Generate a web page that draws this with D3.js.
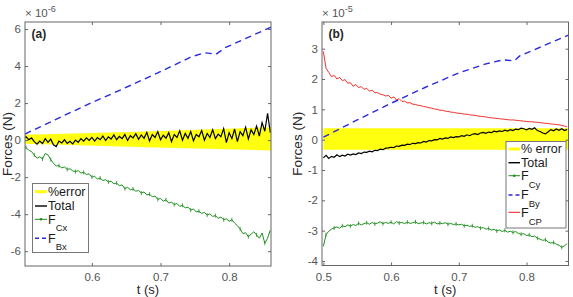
<!DOCTYPE html>
<html>
<head>
<meta charset="utf-8">
<script src="https://cdn.jsdelivr.net/npm/d3@7"></script>
<style>
  body { margin: 0; background: #fff; }
  svg { display: block; font-family: "Liberation Sans", Arial, sans-serif; }
</style>
</head>
<body>
<svg id="chart" width="573" height="297"></svg>
<script>
// --------------------------
// DATA (forces in units of the axis multiplier)
// --------------------------
// sampled series: t = 0.500, 0.504, ... 0.860 s
const tStart = 0.5;
const tStep = 0.004;

// panel (a), x 1e-6 N
const totalA = [
  0.10, 0.18, 0.02, 0.12, -0.08, -0.22, -0.05, -0.18, 0.08, -0.12,
  0.05, -0.25, -0.35, -0.05, -0.15, 0.02, -0.18, -0.06, -0.20, 0.00,
  -0.12, 0.08, -0.06, 0.12, -0.02, 0.15, -0.05, 0.14, 0.02, 0.22,
  -0.02, 0.18, 0.06, 0.28, 0.02, 0.20, 0.08, 0.30, -0.02, 0.24,
  0.12, 0.35, 0.04, 0.28, 0.10, 0.42, -0.05, 0.30, 0.14, 0.46,
  0.02, 0.26, 0.10, 0.40, -0.08, 0.30, 0.14, 0.50, 0.00, 0.36,
  0.10, 0.46, -0.04, 0.30, 0.18, 0.52, 0.00, 0.36, 0.14, 0.56,
  0.08, 0.32, 0.18, 0.62, -0.14, 0.40, 0.08, 0.60, -0.08, 0.46,
  0.24, 0.70, 0.06, 0.56, 0.30, 0.76, 0.22, 0.95, 0.48, 1.45,
  0.40
];
const fCx = [
  -0.25, -0.40, -0.55, -0.62, -0.80, -0.98, -0.90, -1.02, -0.72, -0.80,
  -1.05, -1.25, -1.40, -1.38, -1.50, -1.45, -1.58, -1.55, -1.66, -1.70,
  -1.65, -1.78, -1.74, -1.86, -1.82, -2.00, -1.96, -2.10, -2.05, -2.18,
  -2.14, -2.26, -2.22, -2.36, -2.32, -2.46, -2.42, -2.62, -2.55, -2.68,
  -2.64, -2.76, -2.72, -2.86, -2.80, -2.96, -2.92, -3.06, -3.02, -3.20,
  -3.15, -3.30, -3.22, -3.40, -3.35, -3.48, -3.42, -3.58, -3.52, -3.66,
  -3.62, -3.78, -3.72, -3.88, -3.84, -3.96, -3.90, -4.05, -3.98, -4.12,
  -4.08, -4.22, -4.16, -4.30, -4.25, -4.38, -4.30, -4.48, -4.62, -4.80,
  -5.05, -5.00, -5.22, -5.08, -4.95, -5.12, -5.30, -5.02, -5.57, -5.30,
  -4.86
];
const fBxT = [0.5025, 0.598, 0.637, 0.696, 0.745, 0.764, 0.781, 0.794, 0.862];
const fBx = [0.33, 2.0, 2.63, 3.63, 4.5, 4.72, 4.64, 4.99, 6.12];
const errTA = [0.5, 0.68, 0.862];
const errUpA = [0.29, 0.47, 0.70];
const errLoA = [-0.20, -0.38, -0.56];

// panel (b), x 1e-5 N
const totalB = [
  -0.60, -0.52, -0.62, -0.55, -0.58, -0.50, -0.56, -0.51, -0.54, -0.48,
  -0.51, -0.47, -0.49, -0.44, -0.46, -0.41, -0.42, -0.38, -0.40, -0.35,
  -0.36, -0.31, -0.33, -0.28, -0.27, -0.25, -0.26, -0.21, -0.22, -0.18,
  -0.19, -0.15, -0.16, -0.12, -0.13, -0.10, -0.11, -0.06, -0.08, -0.03,
  -0.04, 0.00, -0.01, 0.04, 0.02, 0.06, 0.04, 0.09, 0.07, 0.10,
  0.09, 0.13, 0.11, 0.16, 0.13, 0.18, 0.20, 0.17, 0.22, 0.24,
  0.21, 0.25, 0.23, 0.28, 0.26, 0.29, 0.27, 0.31, 0.28, 0.33,
  0.30, 0.35, 0.33, 0.38, 0.36, 0.32, 0.37, 0.34, 0.39, 0.30,
  0.27, 0.22, 0.19, 0.26, 0.33, 0.29, 0.35, 0.31, 0.36, 0.30,
  0.34
];
const fCy = [
  -3.52, -3.13, -3.02, -2.95, -2.91, -2.88, -2.92, -2.84, -2.87, -2.81,
  -2.85, -2.80, -2.83, -2.76, -2.81, -2.77, -2.74, -2.79, -2.73, -2.78,
  -2.75, -2.71, -2.77, -2.73, -2.76, -2.72, -2.78, -2.70, -2.75, -2.73,
  -2.77, -2.72, -2.76, -2.74, -2.71, -2.77, -2.75, -2.73, -2.78, -2.74,
  -2.76, -2.72, -2.78, -2.75, -2.77, -2.74, -2.79, -2.76, -2.80, -2.78,
  -2.81, -2.79, -2.84, -2.82, -2.86, -2.84, -2.89, -2.87, -2.92, -2.90,
  -2.95, -2.93, -2.98, -2.96, -3.01, -2.98, -3.03, -2.99, -3.05, -3.02,
  -3.06, -3.03, -3.09, -3.12, -3.10, -3.16, -3.14, -3.20, -3.18, -3.25,
  -3.28, -3.32, -3.30, -3.38, -3.41, -3.39, -3.45, -3.48, -3.55, -3.50,
  -3.43
];
const fCP = [
  2.91, 2.35, 2.22, 2.08, 2.12, 2.00, 2.05, 1.95, 1.98, 1.86,
  1.88, 1.76, 1.82, 1.72, 1.75, 1.66, 1.69, 1.60, 1.63, 1.55,
  1.55, 1.50, 1.48, 1.44, 1.46, 1.37, 1.41, 1.31, 1.35, 1.26,
  1.27, 1.21, 1.22, 1.17, 1.16, 1.13, 1.12, 1.09, 1.08, 1.05,
  1.04, 1.01, 1.00, 0.97, 0.97, 0.94, 0.93, 0.91, 0.90, 0.88,
  0.87, 0.86, 0.84, 0.84, 0.82, 0.81, 0.80, 0.78, 0.77, 0.76,
  0.75, 0.73, 0.72, 0.71, 0.70, 0.69, 0.68, 0.67, 0.66, 0.65,
  0.65, 0.64, 0.63, 0.62, 0.61, 0.60, 0.59, 0.59, 0.58, 0.57,
  0.56, 0.55, 0.54, 0.53, 0.52, 0.51, 0.50, 0.49, 0.47, 0.45,
  0.42
];
const fByT = [0.5, 0.55, 0.6, 0.65, 0.7, 0.74, 0.765, 0.782, 0.79, 0.862];
const fBy = [0.08, 0.65, 1.2, 1.72, 2.2, 2.5, 2.63, 2.6, 2.76, 3.45];
const errTB = [0.5, 0.862];
const errUpB = [0.38, 0.38];
const errLoB = [-0.33, -0.33];

// ticks
const xTicksA = [0.6, 0.7, 0.8];
const yTicksA = [-6, -4, -2, 0, 2, 4, 6];
const xTicksB = [0.5, 0.6, 0.7, 0.8];
const yTicksB = [-4, -3, -2, -1, 0, 1, 2, 3];

// --------------------------
// HELPERS
// --------------------------
const sampled = vals => vals.map((v, i) => ({ t: tStart + i * tStep, v }));
const paired = (ts, vals) => ts.map((t, i) => ({ t, v: vals[i] }));
const band = (ts, up, lo) => ts.map((t, i) => ({ t, hi: up[i], lo: lo[i] }));

const colors = {
    err: "#ffff0f",
    total: "#000000",
    fc: "#1f8f1f",
    fb: "#2a2ae0",
    fcp: "#f01818"
};

const svg = d3.select("#chart");

// --------------------------
// PANEL
// --------------------------
function drawPanel(p) {
    const g = svg.append("g");

    const x = d3.scaleLinear().domain(p.xDomain).range([p.left, p.right]);
    const y = d3.scaleLinear().domain(p.yDomain).range([p.bottom, p.top]);

    g.append("clipPath").attr("id", "clip-" + p.id)
        .append("rect")
        .attr("x", p.left).attr("y", p.top)
        .attr("width", p.right - p.left).attr("height", p.bottom - p.top);

    const plot = g.append("g").attr("clip-path", `url(#clip-${p.id})`);

    // error band
    plot.append("path")
        .datum(p.err)
        .attr("d", d3.area().x(d => x(d.t)).y0(d => y(d.lo)).y1(d => y(d.hi)))
        .attr("fill", colors.err);

    const line = d3.line().x(d => x(d.t)).y(d => y(d.v));

    // total
    plot.append("path").datum(p.total)
        .attr("d", line).attr("fill", "none")
        .attr("stroke", colors.total).attr("stroke-width", 1.2);

    // F_C with small error-bar markers
    plot.append("path").datum(p.fc)
        .attr("d", line).attr("fill", "none")
        .attr("stroke", colors.fc).attr("stroke-width", 1);
    plot.append("g")
        .selectAll("line")
        .data(p.fc.filter((d, i) => i % 3 === 1))
        .enter().append("line")
        .attr("x1", d => x(d.t)).attr("x2", d => x(d.t))
        .attr("y1", d => y(d.v) - 2).attr("y2", d => y(d.v) + 2)
        .attr("stroke", colors.fc).attr("stroke-width", 0.8);

    // F_B dashed
    plot.append("path").datum(p.fb)
        .attr("d", line).attr("fill", "none")
        .attr("stroke", colors.fb).attr("stroke-width", 1.4)
        .attr("stroke-dasharray", "6.5,4.5");

    // F_CP (panel b only)
    if (p.fcp) {
        plot.append("path").datum(p.fcp)
            .attr("d", line).attr("fill", "none")
            .attr("stroke", colors.fcp).attr("stroke-width", 0.9);
    }

    // Axes (inward ticks, MATLAB box)
    const axisColor = "#666";
    const styleAxis = sel => {
        sel.select(".domain").remove();
        sel.selectAll(".tick line").attr("stroke", axisColor);
        sel.selectAll(".tick text")
            .attr("fill", "#555")
            .style("font-size", "11.5px")
            .style("font-family", '"Liberation Sans", Arial, sans-serif');
    };

    g.append("g")
        .attr("transform", `translate(0,${p.bottom})`)
        .call(d3.axisBottom(x).tickValues(p.xTicks).tickSize(-3).tickPadding(7)
            .tickFormat(d3.format(".1f")))
        .call(styleAxis);
    g.append("g")
        .attr("transform", `translate(0,${p.top})`)
        .call(d3.axisTop(x).tickValues(p.xTicks).tickSize(-3).tickFormat(""))
        .call(styleAxis);
    g.append("g")
        .attr("transform", `translate(${p.left},0)`)
        .call(d3.axisLeft(y).tickValues(p.yTicks).tickSize(-3).tickPadding(4)
            .tickFormat(d => String(d)))
        .call(styleAxis);
    g.append("g")
        .attr("transform", `translate(${p.right},0)`)
        .call(d3.axisRight(y).tickValues(p.yTicks).tickSize(-3).tickFormat(""))
        .call(styleAxis);

    g.append("rect")
        .attr("x", p.left).attr("y", p.top)
        .attr("width", p.right - p.left).attr("height", p.bottom - p.top)
        .attr("fill", "none").attr("stroke", axisColor).attr("stroke-width", 1);

    // exponent label
    const ex = g.append("text")
        .attr("x", p.left).attr("y", 17)
        .attr("fill", "#555")
        .style("font-size", "11.5px");
    ex.append("tspan").text("\u00d7 10");
    ex.append("tspan").attr("dy", -5).style("font-size", "9px").text(p.exponent);

    // panel tag
    g.append("text")
        .attr("x", p.left + 6.5).attr("y", 37.5)
        .attr("fill", "#262626")
        .style("font-size", "12px").style("font-weight", "bold")
        .text(p.tag);

    // axis labels
    g.append("text")
        .attr("x", (p.left + p.right) / 2).attr("y", 294)
        .attr("text-anchor", "middle").attr("fill", "#262626")
        .style("font-size", "13px")
        .text("t (s)");
    g.append("text")
        .attr("transform", `translate(${p.yLabelX},${(p.top + p.bottom) / 2}) rotate(-90)`)
        .attr("text-anchor", "middle").attr("fill", "#262626")
        .style("font-size", "13.5px")
        .text("Forces (N)");

    // legend
    const lg = g.append("g");
    lg.append("rect")
        .attr("x", p.legend.x0).attr("y", p.legend.y0)
        .attr("width", p.legend.x1 - p.legend.x0).attr("height", p.legend.y1 - p.legend.y0)
        .attr("fill", "#fff").attr("stroke", "#777").attr("stroke-width", 1);

    p.legend.items.forEach(it => {
        const sx0 = p.legend.x0 + 2.5, sx1 = p.legend.textX - 1;
        const s = lg.append("line")
            .attr("x1", sx0).attr("x2", sx1)
            .attr("y1", it.y).attr("y2", it.y)
            .attr("stroke", colors[it.key]);
        if (it.key === "err") s.attr("stroke-width", 3);
        else if (it.key === "fb") s.attr("stroke-width", 1.4).attr("stroke-dasharray", "4,3");
        else s.attr("stroke-width", it.key === "total" ? 1.4 : 1);
        if (it.key === "fc") {
            lg.append("circle").attr("cx", (sx0 + sx1) / 2).attr("cy", it.y)
                .attr("r", 1.3).attr("fill", colors.fc);
        }
        const t = lg.append("text")
            .attr("x", p.legend.textX).attr("y", it.y + 4.4)
            .attr("fill", "#1a1a1a")
            .style("font-size", "12.5px");
        t.append("tspan").text(it.label);
        if (it.sub) {
            t.append("tspan").attr("dy", it.subDy).style("font-size", "9.5px").text(it.sub);
        }
    });
}

// --------------------------
// DRAW
// --------------------------
drawPanel({
    id: "a", tag: "(a)", exponent: "-6",
    left: 25, right: 271, top: 22, bottom: 266,
    xDomain: [0.5025, 0.861], yDomain: [-6.8, 6.38],
    xTicks: xTicksA, yTicks: yTicksA, yLabelX: 11.5,
    err: band(errTA, errUpA, errLoA),
    total: sampled(totalA),
    fc: sampled(fCx),
    fb: paired(fBxT, fBx),
    legend: {
        x0: 32.5, x1: 88.5, y0: 183.5, y1: 252.5, textX: 48,
        items: [
            { key: "err", label: "%error", y: 191.7 },
            { key: "total", label: "Total", y: 206 },
            { key: "fc", label: "F", sub: "Cx", subDy: 7.5, y: 219.3 },
            { key: "fb", label: "F", sub: "Bx", subDy: 7.5, y: 238.3 }
        ]
    }
});

drawPanel({
    id: "b", tag: "(b)", exponent: "-5",
    left: 322, right: 568.5, top: 22, bottom: 265.5,
    xDomain: [0.498, 0.862], yDomain: [-4.15, 3.88],
    xTicks: xTicksB, yTicks: yTicksB, yLabelX: 302,
    err: band(errTB, errUpB, errLoB),
    total: sampled(totalB),
    fc: sampled(fCy),
    fb: paired(fByT, fBy),
    fcp: sampled(fCP),
    legend: {
        x0: 506, x1: 566, y0: 141.5, y1: 228, textX: 521,
        items: [
            { key: "err", label: "% error", y: 149 },
            { key: "total", label: "Total", y: 162.7 },
            { key: "fc", label: "F", sub: "Cy", subDy: 8, y: 175.7 },
            { key: "fb", label: "F", sub: "By", subDy: 8, y: 195 },
            { key: "fcp", label: "F", sub: "CP", subDy: 8, y: 212.3 }
        ]
    }
});
</script>
</body>
</html>
